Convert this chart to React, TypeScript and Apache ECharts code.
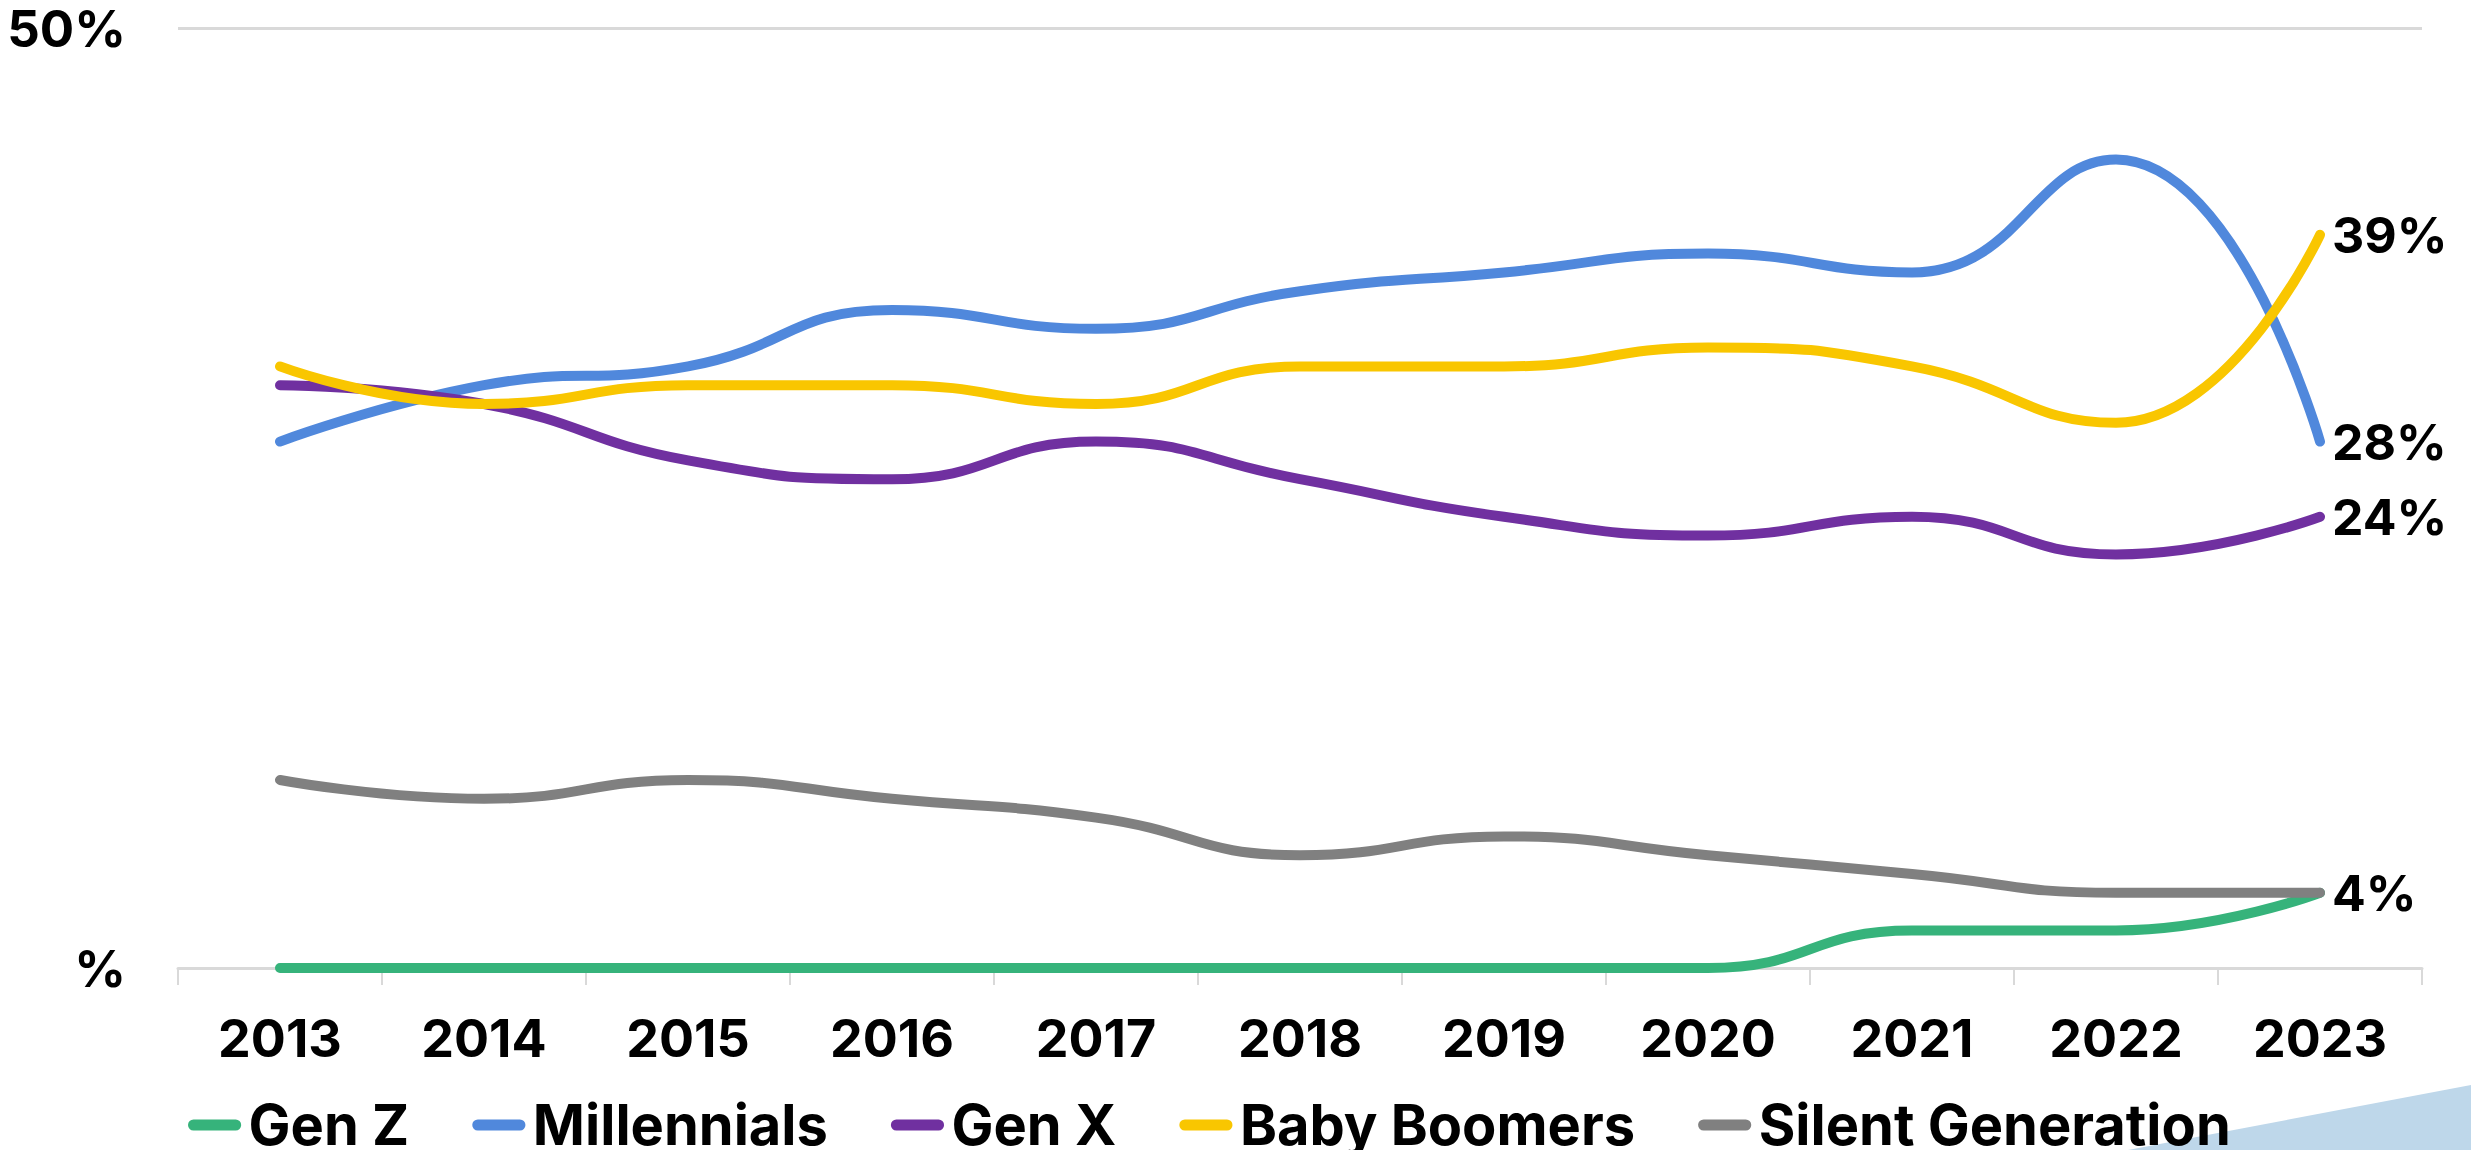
import React, { useEffect, useRef } from "react";
import * as echarts from "echarts";

// Survey years on the category axis
const years = ["2013", "2014", "2015", "2016", "2017", "2018", "2019", "2020", "2021", "2022", "2023"];

// Share of each generation, in percent
const genZ = [0, 0, 0, 0, 0, 0, 0, 0, 2, 2, 4];
const millennials = [28, 31, 32, 35, 34, 36, 37, 38, 37, 43, 28];
const genX = [31, 30, 27, 26, 28, 26, 24, 23, 24, 22, 24];
const babyBoomers = [32, 30, 31, 31, 30, 32, 32, 33, 32, 29, 39];
const silentGeneration = [10, 9, 10, 9, 8, 6, 7, 6, 5, 4, 4];

const seriesNames = ["Gen Z", "Millennials", "Gen X", "Baby Boomers", "Silent Generation"];
const seriesColors = ["#36B37B", "#5088DC", "#7030A0", "#F9C600", "#808080"];
const seriesValues = [genZ, millennials, genX, babyBoomers, silentGeneration];
// Which series carry a value label at their last point
const showEndLabel = [false, true, true, true, true];

// Y axis bounds and its tick texts
const yMin = 0;
const yMax = 50;
const yTickLabels: Record<number, string> = { 0: "%", 50: "50%" };

const FONT = "Inter, 'Open Sans', sans-serif";

export default function App() {
  const ref = useRef<HTMLDivElement>(null);

  useEffect(() => {
    document.body.style.margin = "0";
    document.body.style.overflow = "hidden";
    if (!ref.current) return;
    const chart = echarts.init(ref.current, undefined, { renderer: "svg" });

    const series = seriesNames.map((name, i) => ({
      name,
      type: "line",
      data: seriesValues[i],
      smooth: true,
      symbol: "none",
      lineStyle: { color: seriesColors[i], width: 10, cap: "round", join: "round" },
      itemStyle: { color: seriesColors[i] },
      endLabel: {
        show: showEndLabel[i],
        formatter: (p: any) => `${p.value}%`,
        color: "#000",
        fontFamily: FONT,
        fontWeight: "bold",
        fontSize: 50,
        distance: 12,
      },
      emphasis: { disabled: true },
    }));

    chart.setOption({
      animation: false,
      backgroundColor: "#ffffff",
      grid: { left: 178, right: 49, top: 28, bottom: 182, containLabel: false },
      legend: {
        data: seriesNames,
        left: 183,
        top: 1092,
        icon: "path://M6 0H52A6 6 0 0 1 52 12H6A6 6 0 0 1 6 0Z",
        itemWidth: 58,
        itemHeight: 11,
        itemGap: 63,
        textStyle: { color: "#000", fontFamily: FONT, fontWeight: "bold", fontSize: 56 },
        selectedMode: false,
      },
      xAxis: {
        type: "category",
        data: years,
        boundaryGap: true,
        axisLine: { show: true, lineStyle: { color: "#D9D9D9", width: 3 } },
        axisTick: { show: true, length: 17, lineStyle: { color: "#D9D9D9", width: 2 } },
        axisLabel: {
          color: "#000",
          fontFamily: FONT,
          fontWeight: "bold",
          fontSize: 52,
          margin: 39,
          lineHeight: 62,
        },
        splitLine: { show: false },
      },
      yAxis: {
        type: "value",
        min: yMin,
        max: yMax,
        interval: 50,
        axisLine: { show: false },
        axisTick: { show: false },
        axisLabel: {
          formatter: (v: number) => yTickLabels[v] ?? "",
          color: "#000",
          fontFamily: FONT,
          fontWeight: "bold",
          fontSize: 51,
          margin: 52,
        },
        splitLine: { show: true, lineStyle: { color: "#D9D9D9", width: 3 } },
      },
      graphic: [
        {
          type: "polygon",
          z: 0,
          shape: { points: [[2128, 1150], [2471, 1085], [2471, 1150]] },
          style: { fill: "#BED7EA" },
          silent: true,
        },
      ],
      series,
    });

    return () => chart.dispose();
  }, []);

  return (
    <div
      ref={ref}
      style={{ position: "fixed", left: 0, top: 0, width: 2471, height: 1150, background: "#fff" }}
    />
  );
}
